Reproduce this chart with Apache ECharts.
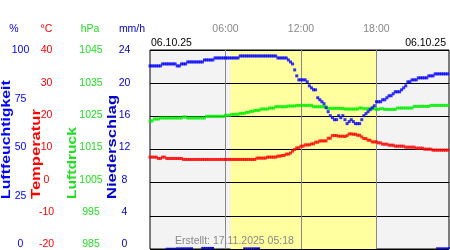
<!DOCTYPE html>
<html>
<head>
<meta charset="utf-8">
<script src="https://cdn.jsdelivr.net/npm/echarts@6/dist/echarts.min.js"></script>
<style>html,body{margin:0;padding:0;background:#fff}#c{width:450px;height:250px}</style>
</head>
<body>
<div id="c"></div>
<script>
// 10-minute readings, 00:00 .. 23:50 (06.10.25)
const stepHours = 1 / 6;
const humidity = [
  92,92,92,92,92,92,93,93,93,93,93,93,
  93,92,92,93,93,93,94,94,94,94,94,94,
  94,94,95,95,95,95,95,96,96,96,96,96,
  96,96,96,96,96,96,96,97,97,97,97,97,
  97,97,97,97,97,97,97,97,97,97,97,97,
  97,96,96,96,96,96,95,94,93,90,87,85,
  85,85,85,84,82,81,80,80,76,75,74,73,
  71,69,67,66,65,65,67,66,67,65,63,64,
  65,64,63,63,63,65,67,68,69,70,71,72,
  74,74,74,75,75,76,77,77,78,79,79,79,
  80,81,82,84,84,85,85,85,86,86,86,86,
  86,87,87,87,88,88,88,88,88,88,88,88
];
const temperature = [
  7.7,7.7,7.7,7.7,7.3,7.3,7.7,7.7,7.3,7.3,7.3,7.3,
  7.3,7.3,7.3,7.3,7.0,7.0,7.0,7.0,7.0,7.0,7.0,7.0,
  7.0,7.0,7.0,7.0,7.0,7.0,7.0,7.0,7.0,7.0,7.0,7.0,
  7.0,7.0,7.0,7.0,7.0,7.0,7.0,7.0,7.0,7.0,7.0,7.0,
  7.0,7.0,7.0,7.4,7.4,7.4,7.4,7.4,7.7,7.7,7.7,7.7,
  7.7,8.0,8.0,8.2,8.2,8.6,8.6,8.9,9.5,10.0,10.5,10.5,
  11.0,11.0,11.4,11.4,11.4,11.7,11.7,12.2,12.2,12.6,12.6,12.6,
  12.6,13.4,13.4,14.2,14.2,14.2,14.0,14.0,14.0,13.9,14.2,14.7,
  14.7,14.6,14.6,14.3,14.3,13.8,13.3,13.3,12.8,12.8,12.3,12.3,
  12.3,12.0,12.0,11.6,11.6,11.6,11.3,11.3,11.3,11.0,11.0,11.0,
  11.0,11.0,10.7,10.7,10.7,10.7,10.7,10.4,10.4,10.4,10.4,10.1,
  10.1,10.1,10.1,9.8,9.8,9.8,9.8,9.8,9.8,9.8,9.8,9.8
];
const pressure = [
  1023.6,1023.6,1024.2,1024.2,1024.2,1024.5,1024.5,1024.5,1024.5,1024.5,1024.5,1024.5,
  1024.5,1024.5,1024.5,1024.5,1024.8,1024.8,1024.5,1024.5,1024.5,1024.5,1024.5,1024.5,
  1024.5,1024.5,1024.5,1025.0,1025.0,1025.0,1025.0,1025.0,1025.0,1025.0,1025.0,1025.0,
  1025.3,1025.3,1025.3,1025.6,1025.6,1025.6,1025.6,1025.9,1025.9,1025.9,1026.2,1026.2,
  1026.5,1026.5,1026.8,1026.8,1026.8,1027.2,1027.2,1027.2,1027.2,1027.5,1027.5,1027.5,
  1027.9,1027.9,1027.9,1027.9,1027.9,1027.9,1028.1,1028.1,1028.1,1028.1,1028.3,1028.3,
  1028.3,1028.3,1028.3,1028.3,1028.3,1028.3,1027.9,1027.9,1027.9,1027.9,1027.9,1027.9,
  1027.9,1027.4,1027.4,1027.4,1027.4,1027.4,1027.4,1027.4,1027.4,1027.2,1027.2,1027.2,
  1027.2,1027.2,1027.2,1027.2,1027.5,1027.5,1027.3,1027.3,1027.3,1027.3,1027.3,1027.3,
  1027.1,1027.1,1027.3,1027.3,1027.1,1027.1,1027.1,1027.1,1027.1,1027.1,1027.5,1027.5,
  1027.5,1027.5,1027.5,1027.5,1027.5,1027.5,1028.0,1028.0,1028.0,1028.0,1028.0,1028.0,
  1028.0,1028.0,1028.3,1028.3,1028.3,1028.3,1028.3,1028.3,1028.3,1028.3,1028.3,1028.3
];
const precipitation = [
  0,0,0,0,0,0,0,0,0.15,0.15,0.15,0.15,
  0.15,0.2,0.2,0.2,0.2,0.2,0.2,0.2,0.2,0,0,0,
  0,0.25,0.25,0.25,0.25,0.25,0.25,0,0,0,0,0,
  0,0,0,0,0,0,0,0,0,0.2,0.2,0.2,
  0.2,0.2,0.2,0.2,0.2,0,0,0,0,0,0,0,
  0,0,0,0,0,0,0,0,0,0,0,0,
  0,0,0,0,0,0,0,0,0,0,0,0,
  0,0,0,0,0,0,0,0,0,0,0,0,
  0,0,0,0,0,0,0,0,0,0,0,0,
  0,0,0,0,0,0,0,0,0,0,0,0,
  0,0,0,0,0,0,0,0,0,0,0,0,
  0,0,0,0,0,0.2,0.2,0.2,0.2,0.2,0.2,0.2
];
const daylight = [6.4, 18.0];           // hours, yellow band
const timeTicks = ['00:00', '06:00', '12:00', '18:00'];
const dateLabel = '06.10.25';
const createdLabel = 'Erstellt: 17.11.2025 05:18';
const humTicks = [0, 100, 25];           // min, max, interval
const tempTicks = [-20, 40, 10];
const presTicks = [985, 1045, 10];
const precTicks = [0, 24, 4];

const C_HUM = '#0000ff', C_TEMP = '#ff0000', C_PRES = '#00ee00', C_PREC = '#0000cc';
const C_PRES_TXT = '#22dd22';
const FONT = 'Liberation Sans, Arial, sans-serif';

const pts = arr => arr.map((v, i) => [i * stepHours, v]);

const labelAxis = (ticks, color, offset) => ({
  gridIndex: 1, type: 'value', min: ticks[0], max: ticks[1], interval: ticks[2],
  position: 'left', offset: offset,
  axisLine: {show: false}, axisTick: {show: false}, splitLine: {show: false},
  axisLabel: {color: color, fontSize: 10.5, fontFamily: FONT, align: 'center', margin: 0,
              formatter: v => String(v)}
});
const hiddenAxis = (ticks) => ({
  gridIndex: 0, type: 'value', min: ticks[0], max: ticks[1], show: false
});
const vText = (text, x, color, sx) => ({
  type: 'text', x: x, y: 199, rotation: Math.PI / 2, scaleX: sx, z: 100,
  style: {text: text, fill: color, font: 'bold 12px ' + FONT, align: 'left', verticalAlign: 'middle'}
});
const hText = (text, x, y, color, align) => ({
  type: 'text', x: x, y: y, z: 100,
  style: {text: text, fill: color, font: '10.5px ' + FONT, align: align || 'center', verticalAlign: 'middle'}
});

const chart = echarts.init(document.getElementById('c'), null, {renderer: 'canvas'});
chart.setOption({
  animation: false,
  grid: [
    {left: 150, top: 50, width: 299, height: 199, show: true, backgroundColor: '#f3f3f3',
     borderColor: '#000', borderWidth: 1, containLabel: false},
    {left: 150, top: 50.3, width: 299, height: 194, show: false}
  ],
  xAxis: [
    {gridIndex: 0, type: 'value', min: 0, max: 23.77, interval: 6, position: 'top', z: 3,
     axisLine: {show: false}, axisTick: {show: false},
     axisLabel: {color: '#888', fontSize: 10.5, fontFamily: FONT, margin: 15,
                 showMinLabel: false, showMaxLabel: false,
                 formatter: v => timeTicks[Math.round(v / 6)] || ''},
     splitLine: {show: true, showMinLine: false, showMaxLine: false,
                 lineStyle: {color: '#888', width: 1}}},
    {gridIndex: 1, type: 'value', min: 0, max: 24, show: false}
  ],
  yAxis: [
    {gridIndex: 0, type: 'value', min: tempTicks[0], max: tempTicks[1], interval: tempTicks[2], z: 3,
     axisLine: {show: false}, axisTick: {show: false}, axisLabel: {show: false},
     splitLine: {show: true, lineStyle: {color: '#000', width: 1}}},
    hiddenAxis(humTicks),
    hiddenAxis(presTicks),
    hiddenAxis(precTicks),
    labelAxis(humTicks, C_HUM, 129.5),
    labelAxis(tempTicks, C_TEMP, 103.5),
    labelAxis(presTicks, C_PRES_TXT, 59),
    labelAxis(precTicks, C_PREC, 25.5)
  ],
  graphic: [
    hText('%', 14, 29.5, C_HUM),
    hText('°C', 46.5, 29.5, C_TEMP),
    hText('hPa', 90, 29.5, C_PRES_TXT),
    hText('mm/h', 132, 29.5, C_PREC),
    hText(dateLabel, 151, 43.5, '#000', 'left'),
    hText(dateLabel, 446, 43.5, '#000', 'right'),
    hText(createdLabel, 175, 241.5, '#888', 'left'),
    vText('Luftfeuchtigkeit', 7, C_HUM, 1.32),
    vText('Temperatur', 37, C_TEMP, 1.38),
    vText('Luftdruck', 72.5, C_PRES_TXT, 1.30),
    vText('Niederschlag', 113, C_PREC, 1.38)
  ],
  series: [
    {type: 'line', xAxisIndex: 0, yAxisIndex: 0, data: [], z: 1, silent: true,
     markArea: {silent: true, itemStyle: {color: '#ffffa0'},
                data: [[{xAxis: daylight[0]}, {xAxis: daylight[1]}]]}},
    {type: 'bar', xAxisIndex: 0, yAxisIndex: 3, data: pts(precipitation), barWidth: 2.2,
     itemStyle: {color: C_HUM}, z: 4, silent: true},
    {type: 'scatter', xAxisIndex: 0, yAxisIndex: 0, data: pts(temperature), symbol: 'rect',
     symbolSize: 3, itemStyle: {color: C_TEMP}, z: 5, silent: true},
    {type: 'scatter', xAxisIndex: 0, yAxisIndex: 2, data: pts(pressure), symbol: 'rect',
     symbolSize: 3, itemStyle: {color: C_PRES}, z: 5, silent: true},
    {type: 'scatter', xAxisIndex: 0, yAxisIndex: 1, data: pts(humidity), symbol: 'rect',
     symbolSize: 3, itemStyle: {color: C_HUM}, z: 5, silent: true}
  ]
});
</script>
</body>
</html>
